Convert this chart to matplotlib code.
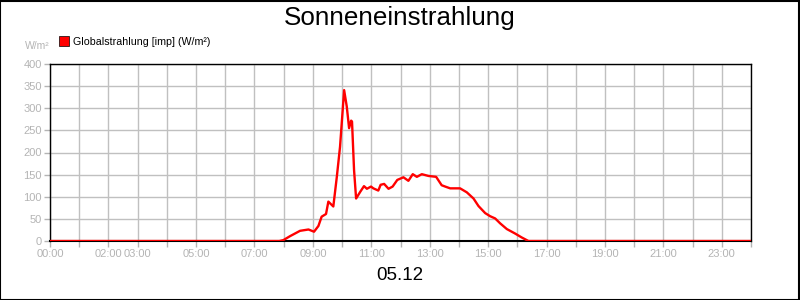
import matplotlib.pyplot as plt
from matplotlib.patches import Rectangle
from matplotlib.lines import Line2D

plt.rcParams['font.family'] = ['Liberation Sans', 'DejaVu Sans']

# data: time of day (hours) and global radiation (W/m²)
hours = [0, 7.85, 7.99, 8.22, 8.56, 8.85, 9.04, 9.19, 9.30, 9.45, 9.53, 9.70, 9.82,
         9.93, 10.07, 10.16, 10.24, 10.31, 10.34, 10.41, 10.48, 10.62, 10.75, 10.85,
         10.99, 11.07, 11.24, 11.32, 11.44, 11.59, 11.73, 11.89, 12.10, 12.27, 12.42,
         12.56, 12.73, 12.96, 13.22, 13.41, 13.53, 13.70, 14.04, 14.27, 14.50, 14.67,
         14.90, 15.07, 15.24, 15.41, 15.64, 15.92, 16.15, 16.38, 24]
radiation = [0, 0, 2, 11, 23, 26, 21, 34, 55, 61, 89, 78, 145,
             213, 341, 304, 255, 272, 270, 160, 96, 111, 124, 118,
             123, 119, 114, 127, 129, 118, 123, 138, 144, 136, 151,
             145, 151, 147, 145, 126, 123, 119, 119, 110, 96, 79,
             63, 56, 51, 40, 27, 17, 8, 0, 0]

x_ticks = list(range(0, 25))
x_labels_shown = ['00:00', '02:00', '03:00', '05:00', '07:00', '09:00', '11:00',
                  '13:00', '15:00', '17:00', '19:00', '21:00', '23:00']
y_ticks = [0, 50, 100, 150, 200, 250, 300, 350, 400]

grey = '#b4b4b4'

fig = plt.figure(figsize=(8, 3), dpi=100)
ax = fig.add_axes([50/800, 1 - 241/300, 701/800, 177/300])

ax.plot(hours, radiation, color='#ff0000', linewidth=1.7, zorder=3)

ax.set_xlim(0, 24)
ax.set_ylim(0, 400)
ax.set_xticks(x_ticks)
ax.set_xticklabels([f'{h:02d}:00' if f'{h:02d}:00' in x_labels_shown else '' for h in x_ticks])
ax.set_yticks(y_ticks)
ax.grid(True, color='#c0c0c0', linewidth=1)
ax.tick_params(colors=grey, labelsize=8, length=4, width=1, pad=2)
for sp in ax.spines.values():
    sp.set_color('black')
    sp.set_linewidth(1)
ax.spines['bottom'].set_linewidth(1.5)

fig.text(0.5, 1 - 18/300, 'Sonneneinstrahlung', ha='center', va='center', fontsize=18.7)
fig.text(0.5, 1 - 276/300, '05.12', ha='center', va='center', fontsize=13.5)
fig.text(37/800, 1 - 46/300, 'W/m²', ha='center', va='center', fontsize=7.5, color=grey)

leg = ax.legend([Line2D([], [], marker='s', color='#ff0000', markeredgecolor='black',
                        markeredgewidth=0.5, linestyle='none', markersize=6.5)],
                ['Globalstrahlung [imp] (W/m²)'],
                loc='lower left', bbox_to_anchor=(54/800, 1 - 52/300),
                bbox_transform=fig.transFigure, frameon=False, fontsize=7.7,
                handletextpad=0.5, borderpad=0, handlelength=0.8)

fig.patches.append(Rectangle((0.0005, 0.0015), 0.998, 0.996, transform=fig.transFigure,
                             fill=False, edgecolor='black', linewidth=1.5))

fig.savefig('out.png', dpi=100)
